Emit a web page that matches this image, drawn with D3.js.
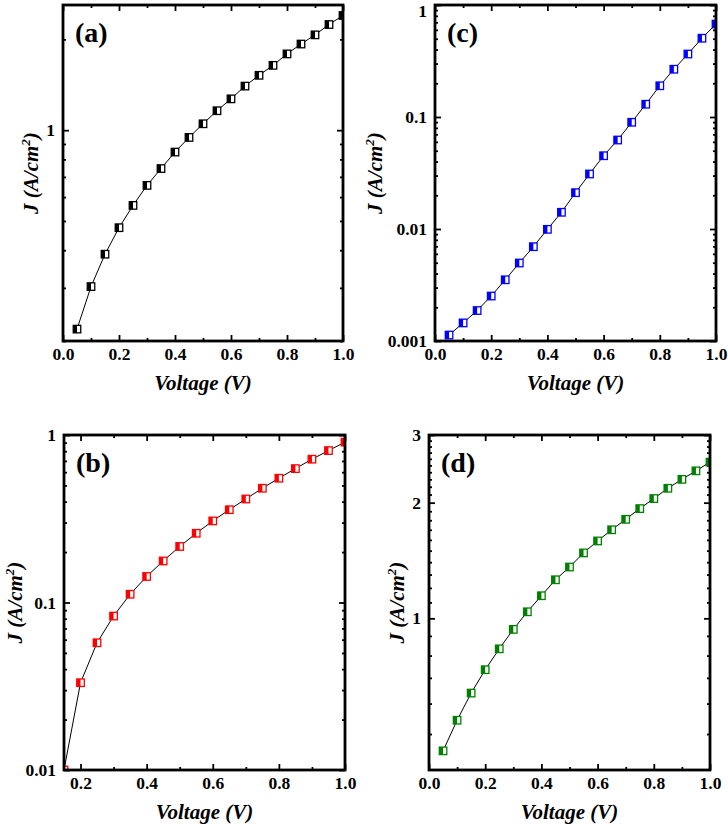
<!DOCTYPE html>
<html>
<head>
<meta charset="utf-8">
<script src="https://cdn.jsdelivr.net/npm/d3@7"></script>
<style>
  body { margin: 0; background: #fff; }
  svg { display: block; }
</style>
</head>
<body>
<div id="chart"></div>
<script>
const width = 728;
const height = 825;

// data
const voltageA = [0.05, 0.10, 0.15, 0.20, 0.25, 0.30, 0.35, 0.40, 0.45, 0.50, 0.55, 0.60, 0.65, 0.70, 0.75, 0.80, 0.85, 0.90, 0.95, 1.00];
const currentA = [0.219, 0.303, 0.388, 0.475, 0.563, 0.656, 0.746, 0.846, 0.946, 1.05, 1.16, 1.27, 1.40, 1.52, 1.64, 1.79, 1.93, 2.07, 2.24, 2.40];

const voltageB = [0.15, 0.20, 0.25, 0.30, 0.35, 0.40, 0.45, 0.50, 0.55, 0.60, 0.65, 0.70, 0.75, 0.80, 0.85, 0.90, 0.95, 1.00];
const currentB = [0.0100, 0.0332, 0.0575, 0.083, 0.112, 0.143, 0.177, 0.216, 0.259, 0.307, 0.358, 0.415, 0.481, 0.552, 0.630, 0.717, 0.807, 0.906];

const voltageC = [0.05, 0.10, 0.15, 0.20, 0.25, 0.30, 0.35, 0.40, 0.45, 0.50, 0.55, 0.60, 0.65, 0.70, 0.75, 0.80, 0.85, 0.90, 0.95, 1.00];
const currentC = [0.00113, 0.00145, 0.00187, 0.00252, 0.00352, 0.00497, 0.00695, 0.00993, 0.0141, 0.0211, 0.0310, 0.0451, 0.0623, 0.0897, 0.130, 0.190, 0.267, 0.365, 0.505, 0.676];

const voltageD = [0.05, 0.10, 0.15, 0.20, 0.25, 0.30, 0.35, 0.40, 0.45, 0.50, 0.55, 0.60, 0.65, 0.70, 0.75, 0.80, 0.85, 0.90, 0.95, 1.00];
const currentD = [0.452, 0.543, 0.639, 0.735, 0.833, 0.936, 1.04, 1.145, 1.26, 1.36, 1.48, 1.59, 1.70, 1.81, 1.93, 2.05, 2.18, 2.30, 2.42, 2.55];

// tick labels
const xTicks = [0, 0.2, 0.4, 0.6, 0.8, 1.0];
const xTicksB = [0.2, 0.4, 0.6, 0.8, 1.0];
const yTicksA = [1];
const yTicksB = [0.01, 0.1, 1];
const yTicksC = [0.001, 0.01, 0.1, 1];
const yTicksD = [1, 2, 3];

const font = "'Liberation Serif', 'Times New Roman', serif";

const panels = [
    { label: "(a)", volt: voltageA, cur: currentA, color: "#000000",
      left: 63, top: 5, right: 343, bottom: 341,
      xDomain: [0, 1], yDomain: [0.2, 2.6], xMajor: xTicks, yMajor: yTicksA, titleOff: 25 },
    { label: "(c)", volt: voltageC, cur: currentC, color: "#0000ff",
      left: 435, top: 5, right: 716, bottom: 341,
      xDomain: [0, 1], yDomain: [0.001, 1], xMajor: xTicks, yMajor: yTicksC, titleOff: 53 },
    { label: "(b)", volt: voltageB, cur: currentB, color: "#ff0000",
      left: 64, top: 435, right: 345, bottom: 770,
      xDomain: [0.15, 1], yDomain: [0.01, 1], xMajor: xTicksB, yMajor: yTicksB, titleOff: 42 },
    { label: "(d)", volt: voltageD, cur: currentD, color: "#008000",
      left: 429, top: 435, right: 710, bottom: 770,
      xDomain: [0, 1], yDomain: [0.403, 3], xMajor: xTicks, yMajor: yTicksD, titleOff: 25,
      extraMinor: d3.range(11, 30).filter(v => v !== 20).map(v => v / 10) }
];

const svg = d3.select("#chart")
    .append("svg")
    .attr("width", width)
    .attr("height", height)
    .attr("viewBox", [0, 0, width, height])
    .style("font-family", font);

const drawPanel = (p, idx) => {
    const x = d3.scaleLinear(p.xDomain, [p.left, p.right]);
    const y = d3.scaleLog(p.yDomain, [p.bottom, p.top]);

    const g = svg.append("g");

    const clipId = "clip" + idx;
    g.append("clipPath").attr("id", clipId)
        .append("rect")
        .attr("x", p.left).attr("y", p.top)
        .attr("width", p.right - p.left).attr("height", p.bottom - p.top);

    // minor ticks
    const xMinor = d3.range(Math.round(p.xDomain[0] * 10), Math.round(p.xDomain[1] * 10) + 1)
        .map(v => v / 10)
        .filter(v => !p.xMajor.some(m => Math.abs(m - v) < 1e-9));
    let yMinor = y.ticks().filter(v => !p.yMajor.some(m => Math.abs(m - v) < 1e-9));
    if (p.extraMinor) yMinor = yMinor.concat(p.extraMinor);
    yMinor = yMinor.filter(v => v >= p.yDomain[0] && v <= p.yDomain[1]);

    const axisStyle = sel => {
        sel.select(".domain").remove();
        sel.selectAll("line").attr("stroke", "#000").attr("stroke-width", 1.8);
        sel.selectAll("text")
            .attr("fill", "#000")
            .style("font-family", font)
            .style("font-weight", "bold")
            .style("font-size", "17.5px");
    };

    // bottom
    g.append("g").attr("transform", `translate(0,${p.bottom})`)
        .call(d3.axisBottom(x).tickValues(p.xMajor).tickSize(-6).tickPadding(7).tickFormat(d3.format(".1f")))
        .call(axisStyle);
    g.append("g").attr("transform", `translate(0,${p.bottom})`)
        .call(d3.axisBottom(x).tickValues(xMinor).tickSize(-3).tickFormat(""))
        .call(axisStyle);
    // top
    g.append("g").attr("transform", `translate(0,${p.top})`)
        .call(d3.axisTop(x).tickValues(p.xMajor).tickSize(-6).tickFormat(""))
        .call(axisStyle);
    g.append("g").attr("transform", `translate(0,${p.top})`)
        .call(d3.axisTop(x).tickValues(xMinor).tickSize(-3).tickFormat(""))
        .call(axisStyle);
    // left
    const yAxisG = g.append("g").attr("transform", `translate(${p.left},0)`)
        .call(d3.axisLeft(y).tickValues(p.yMajor).tickSize(-6).tickPadding(8).tickFormat(d3.format("~g")))
        .call(axisStyle);
    // keep a label sitting on the top edge of the page inside it
    yAxisG.selectAll(".tick text").filter(d => y(d) < 10).attr("dy", "0.65em");
    g.append("g").attr("transform", `translate(${p.left},0)`)
        .call(d3.axisLeft(y).tickValues(yMinor).tickSize(-3).tickFormat(""))
        .call(axisStyle);
    // right
    g.append("g").attr("transform", `translate(${p.right},0)`)
        .call(d3.axisRight(y).tickValues(p.yMajor).tickSize(-6).tickFormat(""))
        .call(axisStyle);
    g.append("g").attr("transform", `translate(${p.right},0)`)
        .call(d3.axisRight(y).tickValues(yMinor).tickSize(-3).tickFormat(""))
        .call(axisStyle);

    const data = p.volt.map((v, i) => ({ v: v, j: p.cur[i] }));

    const line = d3.line().x(d => x(d.v)).y(d => y(d.j));

    g.append("path")
        .datum(data)
        .attr("fill", "none")
        .attr("stroke", "#000")
        .attr("stroke-width", 1)
        .attr("d", line);

    // half-filled square markers
    const s = 7.5;
    const marks = g.append("g")
        .attr("clip-path", `url(#${clipId})`)
        .selectAll("g")
        .data(data)
        .join("g")
        .attr("transform", d => `translate(${x(d.v)},${y(d.j)})`);
    marks.append("rect")
        .attr("x", -s / 2).attr("y", -s / 2)
        .attr("width", s).attr("height", s)
        .attr("fill", "#fff");
    marks.append("rect")
        .attr("x", -s / 2).attr("y", -s / 2)
        .attr("width", s / 2).attr("height", s)
        .attr("fill", p.color);
    marks.append("rect")
        .attr("x", -s / 2).attr("y", -s / 2)
        .attr("width", s).attr("height", s)
        .attr("fill", "none")
        .attr("stroke", p.color)
        .attr("stroke-width", 1.3);

    // frame
    g.append("rect")
        .attr("x", p.left).attr("y", p.top)
        .attr("width", p.right - p.left).attr("height", p.bottom - p.top)
        .attr("fill", "none")
        .attr("stroke", "#000")
        .attr("stroke-width", 2.8);

    // panel label
    g.append("text")
        .attr("x", p.left + 12)
        .attr("y", p.top + 37)
        .style("font-weight", "bold")
        .style("font-size", "28px")
        .text(p.label);

    // axis titles
    g.append("text")
        .attr("x", (p.left + p.right) / 2)
        .attr("y", p.bottom + 49)
        .attr("text-anchor", "middle")
        .style("font-weight", "bold")
        .style("font-style", "italic")
        .style("font-size", "21px")
        .text("Voltage (V)");

    const yTitle = g.append("text")
        .attr("transform", `translate(${p.left - p.titleOff},${(p.top + p.bottom) / 2}) rotate(-90)`)
        .attr("text-anchor", "middle")
        .style("font-weight", "bold")
        .style("font-style", "italic")
        .style("font-size", "21px");
    yTitle.append("tspan").text("J (A/cm");
    yTitle.append("tspan").attr("dy", -8).style("font-size", "13px").text("2");
    yTitle.append("tspan").attr("dy", 8).text(")");
};

panels.forEach(drawPanel);
</script>
</body>
</html>
